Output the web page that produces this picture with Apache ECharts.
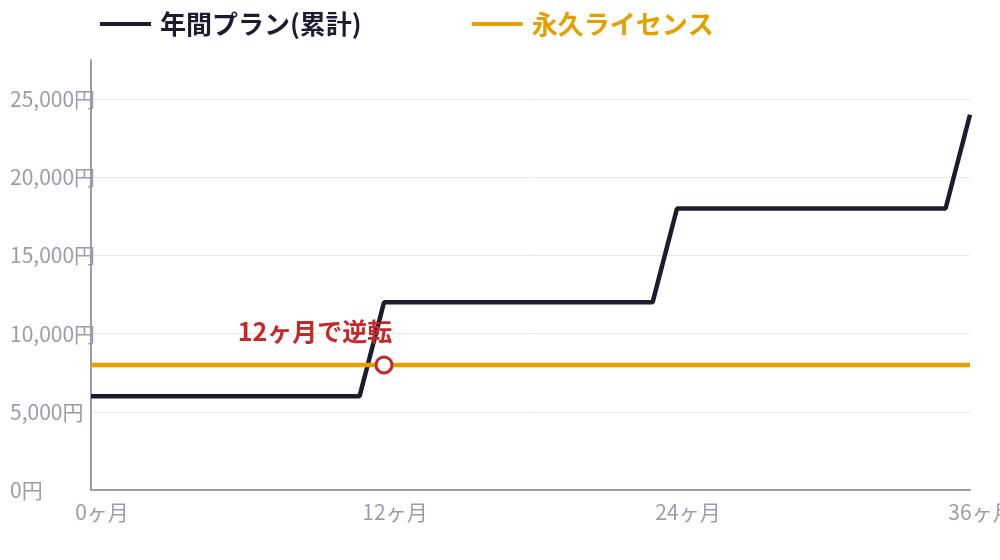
<!DOCTYPE html>
<html><head><meta charset="utf-8">
<script src="https://cdn.jsdelivr.net/npm/echarts@6/dist/echarts.min.js"></script>
<style>html,body{margin:0;padding:0;background:#fff}#c{width:1000px;height:560px}</style>
</head><body><div id="c"></div>
<script>
const months = [0,1,2,3,4,5,6,7,8,9,10,11,12,13,14,15,16,17,18,19,20,21,22,23,24,25,26,27,28,29,30,31,32,33,34,35,36];
const annualCumulative = [6000,6000,6000,6000,6000,6000,6000,6000,6000,6000,6000,6000,
  12000,12000,12000,12000,12000,12000,12000,12000,12000,12000,12000,12000,
  18000,18000,18000,18000,18000,18000,18000,18000,18000,18000,18000,18000,24000];
const perpetual = [8000,8000,8000,8000,8000,8000,8000,8000,8000,8000,8000,8000,8000,8000,8000,8000,8000,8000,8000,8000,8000,8000,8000,8000,8000,8000,8000,8000,8000,8000,8000,8000,8000,8000,8000,8000,8000];
const seriesNames = ['年間プラン(累計)','永久ライセンス'];
const crossover = [12, 8000];
const crossoverLabel = '12ヶ月で逆転';

const FONT = '"Noto Sans CJK JP", "Noto Sans", sans-serif';
const chart = echarts.init(document.getElementById('c'));
chart.setOption({
  animation: false,
  textStyle: {fontFamily: FONT},
  legend: {
    top: 6, left: 95, itemWidth: 51, itemHeight: 4, itemGap: 110,
    icon: 'rect',
    textStyle: {fontSize: 26, fontWeight: 'bold', fontFamily: FONT, padding: [0, 0, 0, 4]},
    data: [
      {name: seriesNames[0], textStyle: {color: '#1c1c2e'}},
      {name: seriesNames[1], textStyle: {color: '#e5a000'}}
    ]
  },
  grid: {left: 91, right: 30, top: 60, bottom: 70, outerBoundsMode: 'none', containLabel: false},
  xAxis: {
    type: 'value', min: 0, max: 36, interval: 12,
    axisLine: {lineStyle: {color: '#9a9cab', width: 2}},
    axisTick: {show: false},
    splitLine: {show: false},
    axisLabel: {color: '#9a9cab', fontSize: 21, margin: 12, padding: [0, 0, 0, 22],
      formatter: v => v + 'ヶ月'}
  },
  yAxis: {
    type: 'value', min: 0, max: 27500, interval: 5000,
    axisLine: {show: true, lineStyle: {color: '#9a9cab', width: 2}},
    axisTick: {show: false},
    splitLine: {show: true, showMaxLine: false, showMinLine: false, lineStyle: {color: '#e8e8ec', width: 1}},
    axisLabel: {color: '#9a9cab', fontSize: 21, align: 'left', margin: 81, showMaxLabel: false,
      formatter: v => v.toLocaleString('en-US') + '円'}
  },
  series: [
    {
      name: seriesNames[0], type: 'line', showSymbol: false, symbol: 'none',
      color: '#1c1c2e', lineStyle: {width: 4.5, color: '#1c1c2e'},
      data: months.map((m, i) => [m, annualCumulative[i]])
    },
    {
      name: seriesNames[1], type: 'line', showSymbol: false, symbol: 'none',
      color: '#e5a000', lineStyle: {width: 4.5, color: '#e5a000'},
      data: months.map((m, i) => [m, perpetual[i]]),
      markPoint: {
        symbol: 'circle', symbolSize: 16,
        itemStyle: {color: '#ffffff', borderColor: '#c62828', borderWidth: 3},
        label: {show: true, position: 'inside', offset: [-69, -33], formatter: crossoverLabel,
          color: '#c62828', fontSize: 25, fontWeight: 'bold', fontFamily: FONT},
        data: [{coord: crossover}]
      }
    }
  ]
});
</script></body></html>
